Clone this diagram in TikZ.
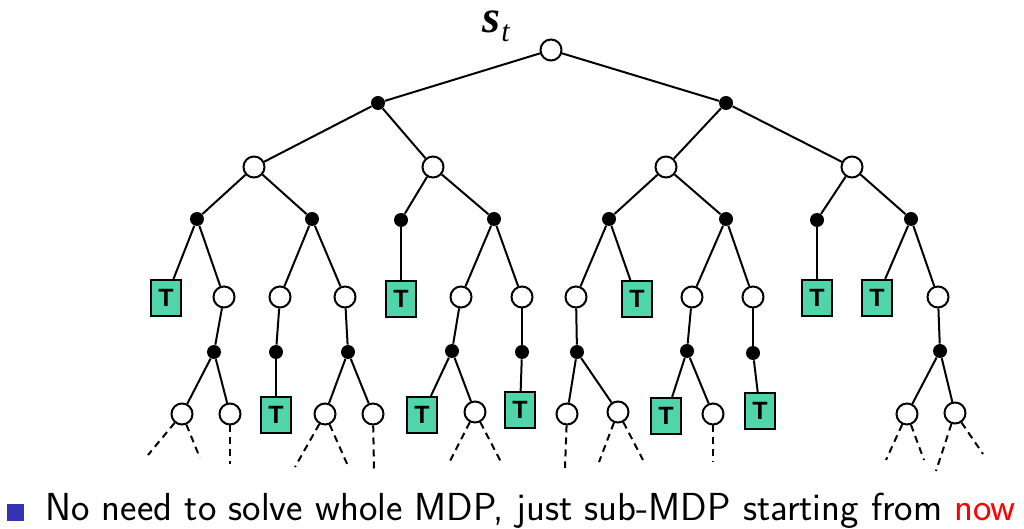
\documentclass[tikz,border=0pt]{standalone}
\usepackage{fontspec}
\newfontfamily\timesfont{Liberation Serif}
\newfontfamily\arialfont{Liberation Sans}
\definecolor{termgreen}{RGB}{80,212,170}
\definecolor{bulletblue}{RGB}{51,51,179}
\tikzset{
  state/.style={circle,draw,fill=white,line width=1pt,minimum size=10.5pt,inner sep=0pt},
  chance/.style={circle,fill=black,minimum size=7pt,inner sep=0pt},
  term/.style={rectangle,draw,line width=1pt,fill=termgreen,minimum width=15pt,minimum height=18pt,inner sep=0pt,font=\arialfont\bfseries\fontsize{12.5}{12.5}\selectfont},
  edge/.style={line width=1pt},
  leafline/.style={line width=1pt,dash pattern=on 3.5pt off 2.5pt}
}
\begin{document}
\begin{tikzpicture}[x=0.5pt,y=0.5pt,yscale=-1,xscale=1]
\useasboundingbox (0,0) rectangle (1024,529);

%root and first levels
\node[state] (r) at (551,50) {};
\node[chance] (a1) at (378,103) {};
\node[chance] (a2) at (726,103) {};
\node[state] (s1) at (254,167) {};
\node[state] (s2) at (433,167) {};
\node[state] (s3) at (666,167) {};
\node[state] (s4) at (852,167) {};
\node[chance] (b1) at (197,219) {};
\node[chance] (b2) at (312,219) {};
\node[chance] (b3) at (401,220) {};
\node[chance] (b4) at (494,219) {};
\node[chance] (b5) at (609,219) {};
\node[chance] (b6) at (726,219) {};
\node[chance] (b7) at (817,220) {};
\node[chance] (b8) at (911,219) {};

%fourth level
\node[term] (t1) at (166,298) {T};
\node[state] (c1) at (224,297) {};
\node[state] (c2) at (280,297) {};
\node[state] (c3) at (345,297) {};
\node[term] (t2) at (401,299) {T};
\node[state] (c4) at (461,297) {};
\node[state] (c5) at (522,297) {};
\node[state] (c6) at (576,297) {};
\node[term] (t3) at (637,299) {T};
\node[state] (c7) at (692,297) {};
\node[state] (c8) at (753,297) {};
\node[term] (t4) at (817,298) {T};
\node[term] (t5) at (877,298) {T};
\node[state] (c9) at (938,297) {};

%fifth level
\node[chance] (d1) at (214,352) {};
\node[chance] (d2) at (276,352) {};
\node[chance] (d3) at (348,352) {};
\node[chance] (d4) at (452,351) {};
\node[chance] (d5) at (522,352) {};
\node[chance] (d6) at (577,352) {};
\node[chance] (d7) at (687,351) {};
\node[chance] (d8) at (753,353) {};
\node[chance] (d9) at (940,351) {};

%sixth level
\node[state] (e1) at (182,414) {};
\node[state] (e2) at (230,414) {};
\node[term] (t6) at (276,415) {T};
\node[state] (e3) at (325,414) {};
\node[state] (e4) at (373,414) {};
\node[term] (t7) at (422,415) {T};
\node[state] (e5) at (475,412) {};
\node[term] (t8) at (520,410) {T};
\node[state] (e6) at (567,414) {};
\node[state] (e7) at (618,412) {};
\node[term] (t9) at (666,416) {T};
\node[state] (e8) at (713,414) {};
\node[term] (t10) at (760,411) {T};
\node[state] (e9) at (907,414) {};
\node[state] (e10) at (955,413) {};

%tree edges
\foreach \a/\b in {r/a1,r/a2,a1/s1,a1/s2,a2/s3,a2/s4,
  s1/b1,s1/b2,s2/b3,s2/b4,s3/b5,s3/b6,s4/b7,s4/b8,
  b1/t1,b1/c1,b2/c2,b2/c3,b3/t2,b4/c4,b4/c5,b5/c6,b5/t3,
  b6/c7,b6/c8,b7/t4,b8/t5,b8/c9,
  c1/d1,c2/d2,c3/d3,c4/d4,c5/d5,c6/d6,c7/d7,c8/d8,c9/d9,
  d1/e1,d1/e2,d2/t6,d3/e3,d3/e4,d4/t7,d4/e5,d5/t8,
  d6/e6,d6/e7,d7/t9,d7/e8,d8/t10,d9/e9,d9/e10}
  \draw[edge] (\a) -- (\b);

%dashed continuations
\foreach \from/\to/\x/\y in {e1/f1/148/455,e1/f2/200/458,e2/f3/230/464,
  e3/f4/295/467,e3/f5/348/466,e4/f6/374/469,e5/f7/448/465,e5/f8/501/462,
  e6/f9/565/468,e7/f10/599/462,e7/f11/643/460,e8/f12/713/462,
  e9/f13/886/460,e9/f14/924/460,e10/f15/936/471,e10/f16/983/454}
  {\coordinate (\to) at (\x,\y);
   \draw[leafline] (\from) -- (\to);}

% Text Node
\node[anchor=base west,inner sep=0pt] (st) at (482,33)
  {\timesfont\fontsize{23}{23}\selectfont\bfseries\itshape s\kern0.5pt\raisebox{-4.5pt}{\mdseries\fontsize{15}{15}\selectfont t}};
% Text Node
\fill[bulletblue] (7,504) rectangle (24,521);
\node[anchor=base west,inner sep=0pt] (caption) at (45,521)
  {\sffamily\fontsize{19.55}{23}\selectfont No need to solve whole MDP, just sub-MDP starting from \textcolor{red}{now}};

\end{tikzpicture}
\end{document}
